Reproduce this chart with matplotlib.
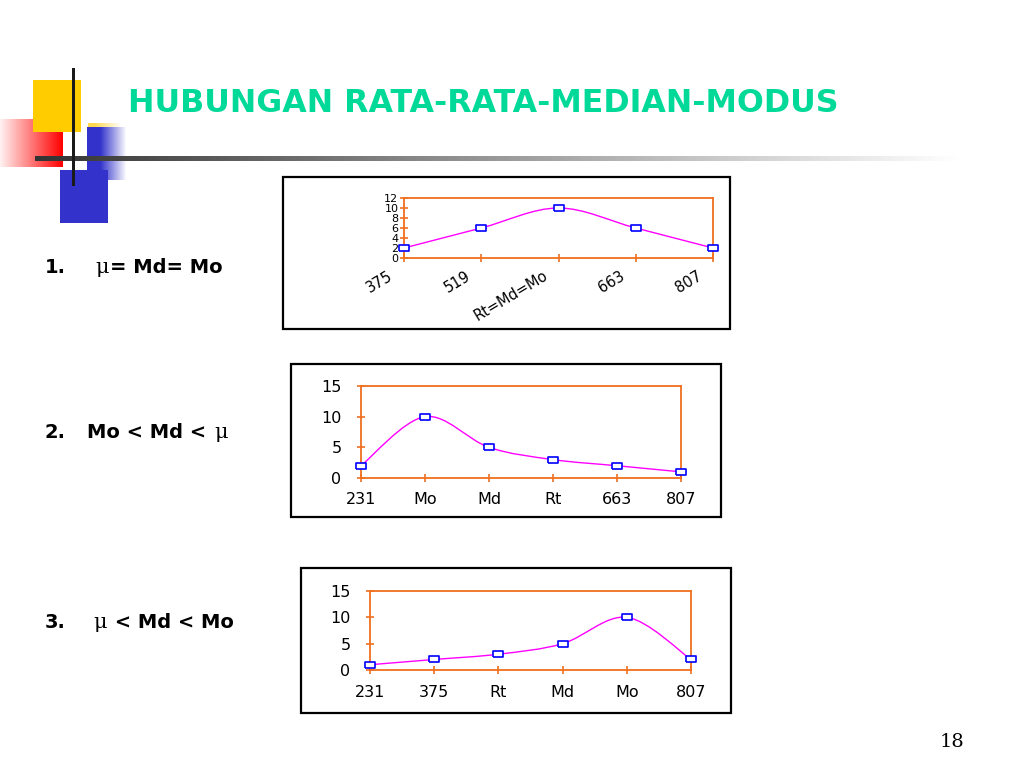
import numpy as np
import matplotlib
matplotlib.use("Agg")
import matplotlib.pyplot as plt
from matplotlib.patches import Rectangle, PathPatch
from matplotlib.path import Path

W, H = 1024, 768

judul = "HUBUNGAN RATA-RATA-MEDIAN-MODUS"
halaman = "18"

# grafik 1 : simetris
kat1 = ["375", "519", "Rt=Md=Mo", "663", "807"]
nilai1 = [2, 6, 10, 6, 2]
ytik1 = [0, 2, 4, 6, 8, 10, 12]

# grafik 2 : miring ke kanan
kat2 = ["231", "Mo", "Md", "Rt", "663", "807"]
nilai2 = [2, 10, 5, 3, 2, 1]
ytik2 = [0, 5, 10, 15]

# grafik 3 : miring ke kiri
kat3 = ["231", "375", "Rt", "Md", "Mo", "807"]
nilai3 = [1, 2, 3, 5, 10, 2]
ytik3 = [0, 5, 10, 15]

ORANYE = "#F07020"
UNGU = "#FF00FF"
BIRU = "#0000FF"


def kotak(x0, y0, x1, y1):
    """ pixel (atas-kiri, bawah-kanan) -> rect figure"""
    return [x0 / W, 1 - y1 / H, (x1 - x0) / W, (y1 - y0) / H]


fig = plt.figure(figsize=(W / 100, H / 100), dpi=100)
fig.patch.set_facecolor("white")

# latar untuk hiasan
bg = fig.add_axes([0, 0, 1, 1], zorder=-5)
bg.axis("off")

bg.add_patch(Rectangle((33, 80), 48, 52, color="#FFCC00", lw=0))

merah = np.zeros((1, 64, 4))
merah[..., 0] = 1.0
merah[..., 3] = np.linspace(0.06, 1.0, 64)
bg.imshow(merah, extent=(0, 63, 167, 119), aspect="auto", interpolation="bilinear")

biru = np.zeros((1, 40, 4))
biru[..., 0] = 0.2
biru[..., 1] = 0.2
biru[..., 2] = 0.8
biru[..., 3] = np.clip(np.linspace(1.5, 0.0, 40), 0, 1)
bg.imshow(biru, extent=(87, 127, 180, 127), aspect="auto", interpolation="bilinear")

kuning = np.zeros((1, 34, 4))
kuning[..., 0] = 1.0
kuning[..., 1] = 0.85
kuning[..., 2] = 0.3
kuning[..., 3] = np.clip(np.linspace(1.2, 0.0, 34), 0, 1)
bg.imshow(kuning, extent=(88, 122, 127, 123), aspect="auto", interpolation="bilinear")

bg.add_patch(Rectangle((60, 170), 48, 53, color="#3333CC", lw=0))
bg.add_patch(Rectangle((72, 68), 3, 118, color="#1A1A1A", lw=0))

abu = np.ones((1, 200, 3)) * np.linspace(0.2, 1.0, 200)[None, :, None]
bg.imshow(abu, extent=(35, 960, 161, 156), aspect="auto", interpolation="bilinear")

# bingkai hitam grafik
for x0, y0, x1, y1 in [(283, 177, 730, 329), (291, 364, 721, 517), (301, 568, 731, 713)]:
    bg.add_patch(Rectangle((x0, y0), x1 - x0, y1 - y0, fill=False, ec="black", lw=1.6))

bg.set_xlim(0, W)
bg.set_ylim(H, 0)

fig.text(128 / W, 1 - 103 / H, judul, color="#00D998", fontsize=22.8,
         fontweight="bold", family="DejaVu Sans", va="center", ha="left")
fig.text(952 / W, 1 - 742 / H, halaman, fontsize=14, family="DejaVu Serif",
         va="center", ha="center")


def garis_halus(ax, ys):
    """ kurva mulus (bezier) lewat titik-titik data"""
    xs = np.arange(len(ys), dtype=float)
    ys = np.asarray(ys, dtype=float)
    p = np.column_stack([xs, ys])
    verts = [p[0]]
    codes = [Path.MOVETO]
    n = len(p)
    for i in range(n - 1):
        p0 = p[max(i - 1, 0)]
        p1 = p[i]
        p2 = p[i + 1]
        p3 = p[min(i + 2, n - 1)]
        verts += [p1 + (p2 - p0) / 6, p2 - (p3 - p1) / 6, p2]
        codes += [Path.CURVE4] * 3
    ax.add_patch(PathPatch(Path(verts, codes), fill=False, ec=UNGU, lw=1.0,
                           clip_on=False, zorder=3))


penanda = [(-1, -0.6), (1, -0.6), (1, 0.6), (-1, 0.6), (-1, -0.6)]


def grafik(rect, kat, nilai, ytik, ukuran_y, ukuran_x, pad_y, pad_x, putar=0):
    ax = fig.add_axes(rect)
    x = np.arange(len(kat))
    garis_halus(ax, nilai)
    ax.plot(x, nilai, ls="none", marker=penanda, ms=7.5, mfc="white", mec=BIRU,
            mew=1.2, clip_on=False, zorder=4)
    ax.set_xlim(0, len(kat) - 1)
    ax.set_ylim(ytik[0], ytik[-1])
    ax.set_yticks(ytik)
    ax.set_xticks(x)
    for s in ax.spines.values():
        s.set_color(ORANYE)
        s.set_linewidth(1.3)
    ax.tick_params(axis="both", direction="inout", length=6, width=1.2, color=ORANYE)
    ax.tick_params(axis="y", labelsize=ukuran_y, pad=pad_y)
    ax.tick_params(axis="x", labelsize=ukuran_x, pad=pad_x)
    if putar:
        # label miring, digeser sedikit ke kiri seperti aslinya
        ax.set_xticklabels([])
        for i, lbl in enumerate(kat):
            ax.annotate(lbl, (i, 0), xycoords=("data", "axes fraction"),
                        xytext=(-16, -10), textcoords="offset pixels",
                        rotation=putar, ha="right", va="top",
                        rotation_mode="anchor", fontsize=ukuran_x,
                        annotation_clip=False)
    else:
        ax.set_xticklabels(kat)
    ax.set_facecolor("none")
    return ax


grafik(kotak(404, 198, 713, 258), kat1, nilai1, ytik1, 8, 10.5, 1.0, 6, putar=31)
grafik(kotak(361, 386, 681, 478), kat2, nilai2, ytik2, 11.5, 11.5, 11, 7)
grafik(kotak(370, 591, 691, 670), kat3, nilai3, ytik3, 11.5, 11.5, 11, 8)

# teks keterangan di kiri
tebal = dict(fontsize=14, fontweight="bold", family="DejaVu Sans")
mu = dict(fontsize=15, family="DejaVu Serif")
baris = [
    (268, [(45, "1.", tebal), (95, "μ", mu), (None, "= Md= Mo", tebal)]),
    (433, [(45, "2.", tebal), (87, "Mo < Md < ", tebal), (None, "μ", mu)]),
    (623, [(45, "3.", tebal), (93, "μ", mu), (None, " < Md < Mo", tebal)]),
]
fig.canvas.draw()
r = fig.canvas.get_renderer()
for y, potongan in baris:
    xs = 0
    for x, teks, gaya in potongan:
        if x is None:
            x = xs
        t = fig.text(x / W, 1 - y / H, teks, va="center", ha="left", **gaya)
        xs = t.get_window_extent(renderer=r).x1 + 1

fig.savefig("out.png", dpi=100)
